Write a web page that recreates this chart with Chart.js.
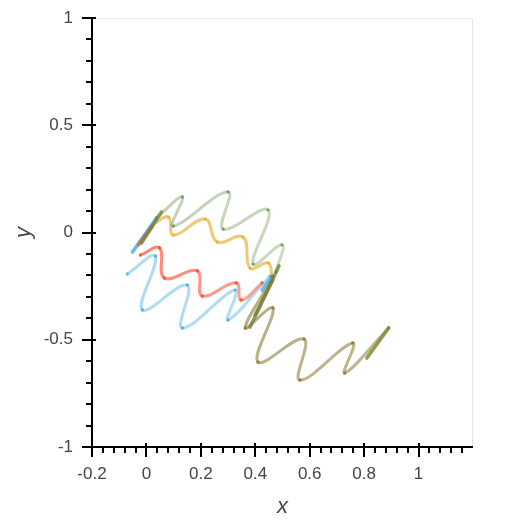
<!DOCTYPE html>
<html>
<head>
<meta charset="utf-8">
<script src="https://cdn.jsdelivr.net/npm/chart.js@4.4.1/dist/chart.umd.min.js"></script>
<style>
  html, body { margin: 0; padding: 0; background: #fff; }
  #wrap { width: 525px; height: 525px; }
</style>
</head>
<body>
<div id="wrap"><canvas id="myChart" width="525" height="525"></canvas></div>
<script>
// tick labels
const xTicks = [-0.2, 0, 0.2, 0.4, 0.6, 0.8, 1];
const yTicks = [-1, -0.5, 0, 0.5, 1];
const xMin = -0.2, xMax = 1.2, yMin = -1, yMax = 1;

// wavy curves, points
const blueWave = [[-0.070,-0.193],[0.033,-0.110],[-0.015,-0.361],[0.150,-0.245],[0.132,-0.445],[0.326,-0.268],[0.300,-0.408],[0.454,-0.203]];
const redWave = [[-0.022,-0.105],[0.048,-0.072],[0.066,-0.212],[0.187,-0.179],[0.205,-0.296],[0.330,-0.235],[0.348,-0.315],[0.425,-0.235]];
const yellowWave = [[0.026,0.040],[0.081,0.072],[0.099,-0.012],[0.216,0.063],[0.260,-0.044],[0.355,-0.021],[0.381,-0.166],[0.447,-0.142],[0.462,-0.207]];
const greenWave = [[0.037,0.068],[0.132,0.166],[0.099,0.030],[0.300,0.189],[0.282,0.016],[0.447,0.105],[0.392,-0.147],[0.498,-0.058],[0.476,-0.184]];
const oliveWave = [[0.465,-0.207],[0.363,-0.445],[0.465,-0.352],[0.410,-0.604],[0.579,-0.497],[0.564,-0.688],[0.758,-0.515],[0.729,-0.655],[0.890,-0.445]];

// short straight strokes
const blueLeft = [[-0.051,-0.091],[0.037,0.068]];
const redLeft = [[-0.029,-0.058],[0.022,0.030]];
const greenLeft = [[-0.018,-0.049],[0.055,0.096]];
const greenRight = [[0.381,-0.441],[0.487,-0.156]];
const oliveRight = [[0.399,-0.385],[0.465,-0.221]];
const blueRight = [[0.425,-0.268],[0.462,-0.203]];
const oliveEnd = [[0.810,-0.585],[0.890,-0.445]];

function pts(arr) {
  return arr.map(p => ({x: p[0], y: p[1]}));
}

function rgba(c, a) {
  return 'rgba(' + c[0] + ',' + c[1] + ',' + c[2] + ',' + a + ')';
}

function wave(arr, col, a0, a1) {
  const n = arr.length - 1;
  return {
    data: pts(arr),
    showLine: true,
    tension: 0.42,
    borderWidth: 3,
    borderCapStyle: 'round',
    borderJoinStyle: 'round',
    borderColor: rgba(col, a0),
    segment: {
      borderColor: ctx => rgba(col, (a0 + (a1 - a0) * ctx.p0DataIndex / n).toFixed(3))
    },
    pointRadius: 1.6,
    pointBorderWidth: 0,
    pointBackgroundColor: rgba(col, Math.min(1, Math.max(a0, a1) + 0.2))
  };
}

function stroke(arr, col, a) {
  return {
    data: pts(arr),
    showLine: true,
    tension: 0,
    borderWidth: 3.6,
    borderCapStyle: 'round',
    borderColor: rgba(col, a),
    pointRadius: 0
  };
}

const datasets = [
  stroke(oliveEnd, [130,140,50], 0.85),
  stroke(greenRight, [110,125,50], 0.75),
  stroke(oliveRight, [140,125,60], 0.7),
  stroke(blueRight, [40,160,220], 0.65),
  stroke(greenLeft, [115,130,50], 0.75),
  stroke(redLeft, [240,80,50], 0.65),
  stroke(blueLeft, [40,160,220], 0.7),
  wave(oliveWave, [140,125,55], 0.62, 0.55),
  wave(greenWave, [100,140,70], 0.4, 0.32),
  wave(yellowWave, [235,175,50], 0.68, 0.68),
  wave(redWave, [255,80,55], 0.7, 0.5),
  wave(blueWave, [41,160,220], 0.38, 0.35)
];

const frameAxes = {
  id: 'frameAxes',
  beforeDatasetsDraw(chart) {
    const {ctx, chartArea: a} = chart;
    ctx.save();
    ctx.strokeStyle = '#e5e5e5';
    ctx.lineWidth = 1;
    ctx.beginPath();
    ctx.moveTo(a.left, a.top + 0.5);
    ctx.lineTo(a.right - 0.5, a.top + 0.5);
    ctx.lineTo(a.right - 0.5, a.bottom);
    ctx.stroke();
    ctx.restore();
  },
  afterDatasetsDraw(chart) {
    const {ctx, chartArea: a, scales: {x, y}} = chart;
    ctx.save();
    ctx.strokeStyle = '#000';
    ctx.lineWidth = 2;
    ctx.beginPath();
    ctx.moveTo(a.left, a.bottom);
    ctx.lineTo(a.right, a.bottom);
    ctx.moveTo(a.left, a.top);
    ctx.lineTo(a.left, a.bottom);
    // major ticks
    xTicks.forEach(v => {
      const px = Math.round(x.getPixelForValue(v));
      ctx.moveTo(px, a.bottom - 4);
      ctx.lineTo(px, a.bottom + 10);
    });
    yTicks.forEach(v => {
      const py = Math.round(y.getPixelForValue(v));
      ctx.moveTo(a.left - 10, py);
      ctx.lineTo(a.left + 4, py);
    });
    // minor ticks
    for (let i = 1; i * 0.04 < xMax - xMin - 0.001; i++) {
      if (i % 5 === 0) continue;
      const px = Math.round(x.getPixelForValue(xMin + i * 0.04));
      ctx.moveTo(px, a.bottom);
      ctx.lineTo(px, a.bottom + 6);
    }
    for (let i = 1; i * 0.1 < yMax - yMin - 0.001; i++) {
      if (i % 5 === 0) continue;
      const py = Math.round(y.getPixelForValue(yMin + i * 0.1));
      ctx.moveTo(a.left - 6, py);
      ctx.lineTo(a.left, py);
    }
    ctx.stroke();
    ctx.restore();
  }
};

const labelFont = {family: "'Liberation Sans', Arial, sans-serif", size: 17};
const titleFont = {family: "'Liberation Sans', Arial, sans-serif", size: 22, style: 'italic'};

new Chart(document.getElementById('myChart'), {
  type: 'scatter',
  data: {datasets: datasets},
  options: {
    responsive: false,
    animation: false,
    devicePixelRatio: 1,
    layout: {padding: {top: 18, right: 52, left: 0, bottom: 0}},
    plugins: {legend: {display: false}, tooltip: {enabled: false}},
    scales: {
      x: {
        type: 'linear',
        min: xMin,
        max: xMax,
        afterBuildTicks: s => { s.ticks = xTicks.map(v => ({value: v})); },
        afterFit: s => { s.height = 78; },
        grid: {display: false, drawTicks: false},
        border: {display: false},
        ticks: {
          color: '#444',
          font: labelFont,
          padding: 17,
          maxRotation: 0,
          autoSkip: false,
          callback: v => String(v)
        },
        title: {display: true, text: 'x', color: '#444', font: titleFont, padding: {top: 0, bottom: 5}}
      },
      y: {
        type: 'linear',
        min: yMin,
        max: yMax,
        afterBuildTicks: s => { s.ticks = yTicks.map(v => ({value: v})); },
        afterFit: s => { s.width = 92; s.paddingTop = 0; s.paddingBottom = 0; },
        grid: {display: false, drawTicks: false},
        border: {display: false},
        ticks: {
          color: '#444',
          font: labelFont,
          padding: 19,
          autoSkip: false,
          callback: v => String(v)
        },
        title: {display: true, text: 'y', color: '#444', font: titleFont, padding: {top: 11, bottom: 0}}
      }
    }
  },
  plugins: [frameAxes]
});
</script>
</body>
</html>
